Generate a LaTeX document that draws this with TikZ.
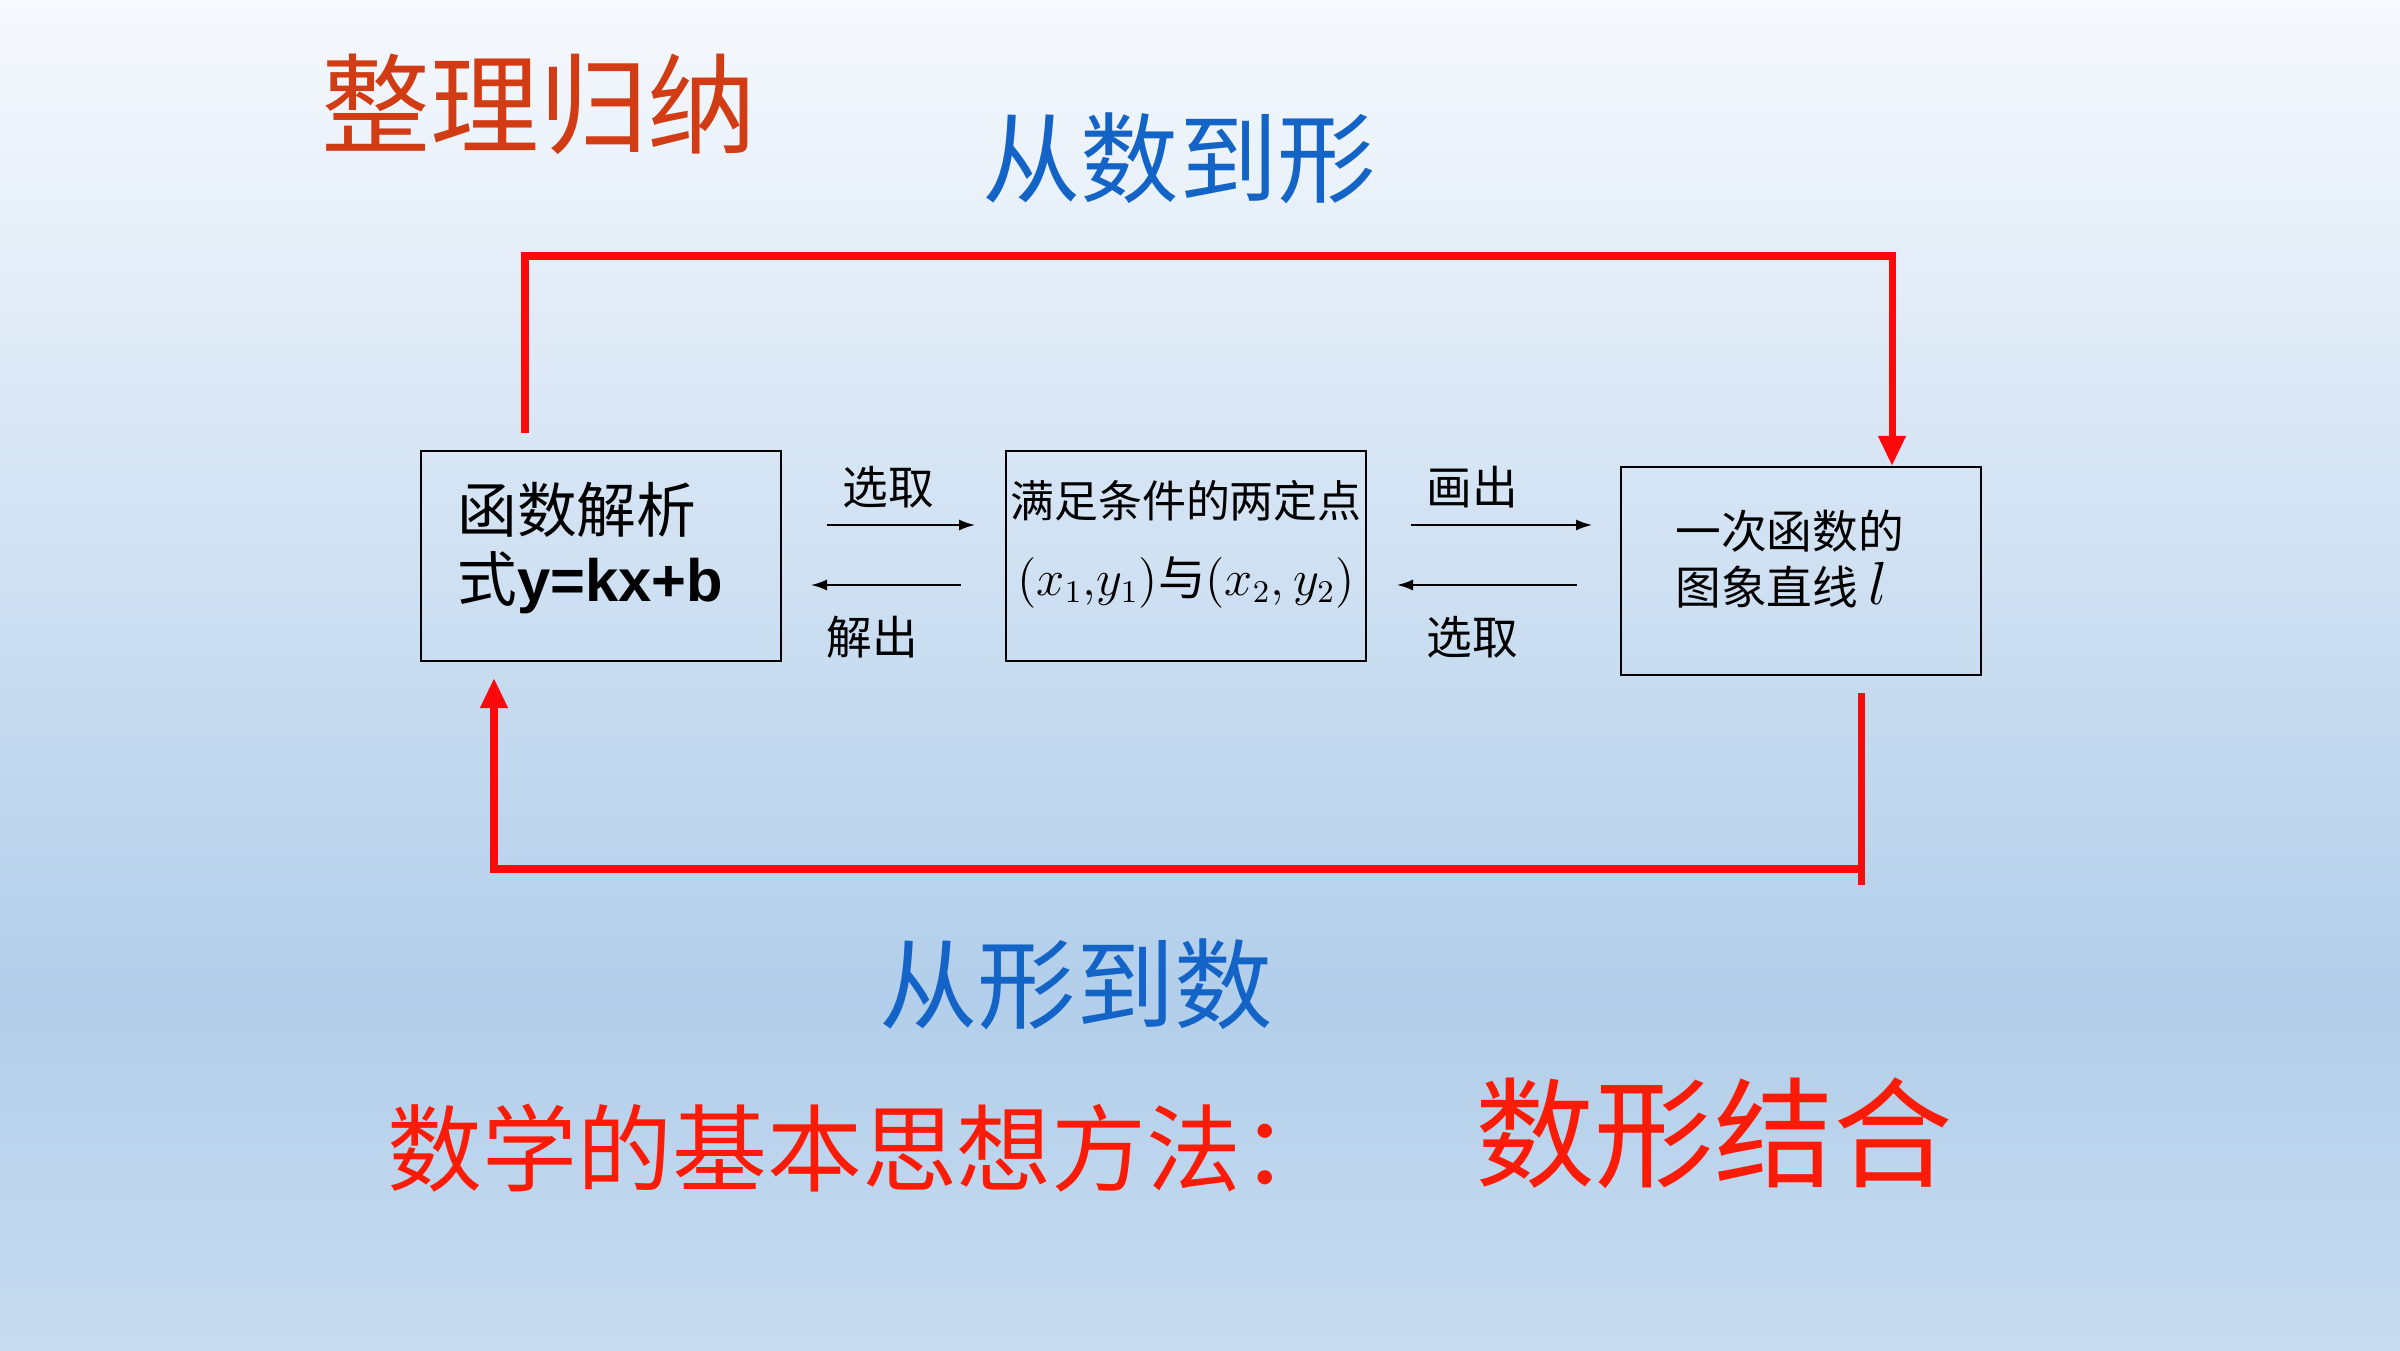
\documentclass[tikz,border=0pt]{standalone}
\usepackage{fontspec}
\setmainfont{Liberation Sans}
\newfontfamily\cjk{Noto Sans CJK SC}
\usetikzlibrary{arrows.meta,positioning}
\definecolor{titlered}{RGB}{210,60,20}
\definecolor{titleblue}{RGB}{20,100,200}
\definecolor{linered}{RGB}{250,10,10}
\definecolor{bgtop}{RGB}{246,249,253}
\definecolor{bgmid}{RGB}{178,206,234}
\definecolor{bgbot}{RGB}{200,220,240}
\tikzset{
  kasten/.style={draw=black,fill=none,minimum width=3.6cm,inner sep=0pt,line width=0.6pt},
  klein/.style={-{Latex[length=1.6mm,width=1.1mm]},line width=0.5pt},
  rot/.style={draw=linered,line width=2pt},
  rotpfeil/.style={rot,-{Triangle[length=3mm,width=2.6mm]}},
  beschr/.style={font=\cjk\fontsize{13}{15}\selectfont}
}
\begin{document}
\begin{tikzpicture}
	\shade[top color=bgtop,bottom color=bgmid] (0,3.5) rectangle (24,13.5);
	\shade[top color=bgmid,bottom color=bgbot] (0,0) rectangle (24,3.51);
	\useasboundingbox (0,0) rectangle (24,13.5);

	\node[font=\cjk\fontsize{31}{33}\selectfont,text=titlered] (ttl) at (5.39,12.46) {整理归纳};
	\node[font=\cjk\fontsize{28}{30}\selectfont,text=titleblue] (oben) at (11.79,11.92) {从数到形};
	\node[font=\cjk\fontsize{28}{30}\selectfont,text=titleblue] (unten) at (10.76,3.66) {从形到数};
	\node[font=\cjk\fontsize{27}{29}\selectfont,text=linered!85!orange] (meth) at (8.62,2.02) {数学的基本思想方法：};
	\node[font=\cjk\fontsize{34}{36}\selectfont,text=linered!85!orange] (szjh) at (17.14,2.17) {数形结合};

	% boxes
	\node[kasten,minimum height=2.1cm] (b1) at (6.01,7.94) {};
	\node[kasten,minimum height=2.1cm] (b2) at (11.86,7.94) {};
	\node[kasten,minimum height=2.08cm] (b3) at (18.01,7.79) {};
	\node[anchor=west,font=\cjk\fontsize{17}{19}\selectfont] (t1a) at (4.45,8.40) {函数解析};
	\node[anchor=west,font=\fontsize{17}{19}\selectfont] (t1b) at (4.45,7.67) {{\cjk 式}\textbf{y=kx+b}};
	\node[font=\cjk\fontsize{12.5}{15}\selectfont] (t2a) at (11.86,8.49) {满足条件的两定点};
	\node[font=\fontsize{13.5}{16}\selectfont] (t2b) at (11.86,7.68) {$(x_1{,}y_1)${\cjk 与}$(x_2,y_2)$};
	\node[anchor=west,font=\cjk\fontsize{13}{15}\selectfont] (t3a) at (16.63,8.19) {一次函数的};
	\node[anchor=west,font=\cjk\fontsize{13}{15}\selectfont] (t3b) at (16.63,7.65) {图象直线 \fontsize{16}{18}\selectfont$l$};

	% small arrows
	\coordinate (a1) at (8.27,8.25); \coordinate (a2) at (9.75,8.25);
	\coordinate (a3) at (9.61,7.65); \coordinate (a4) at (8.11,7.65);
	\coordinate (a5) at (14.11,8.25); \coordinate (a6) at (15.92,8.25);
	\coordinate (a7) at (15.77,7.65); \coordinate (a8) at (13.97,7.65);
	\draw[klein] (a1) -- (a2);
	\draw[klein] (a3) -- (a4);
	\draw[klein] (a5) -- (a6);
	\draw[klein] (a7) -- (a8);
	\node[beschr] (l1) at (8.88,8.63) {选取};
	\node[beschr] (l2) at (8.72,7.13) {解出};
	\node[beschr] (l3) at (14.72,8.63) {画出};
	\node[beschr] (l4) at (14.72,7.13) {选取};

	% red loops
	\coordinate (r1) at (5.25,9.17); \coordinate (r2) at (5.25,10.94);
	\coordinate (r3) at (18.92,10.94);
	\draw[rotpfeil] (r1) -- (r2) -- (r3) -- (r3 |- b3.north);
	\coordinate (s1) at (18.61,6.57); \coordinate (s2) at (18.61,4.65);
	\coordinate (s3) at (18.61,4.81); \coordinate (s4) at (4.94,4.81);
	\coordinate (s5) at (4.94,6.72);
	\draw[rot] (s1) -- (s2);
	\draw[rotpfeil] (s3) -- (s4) -- (s5);
\end{tikzpicture}
\end{document}
